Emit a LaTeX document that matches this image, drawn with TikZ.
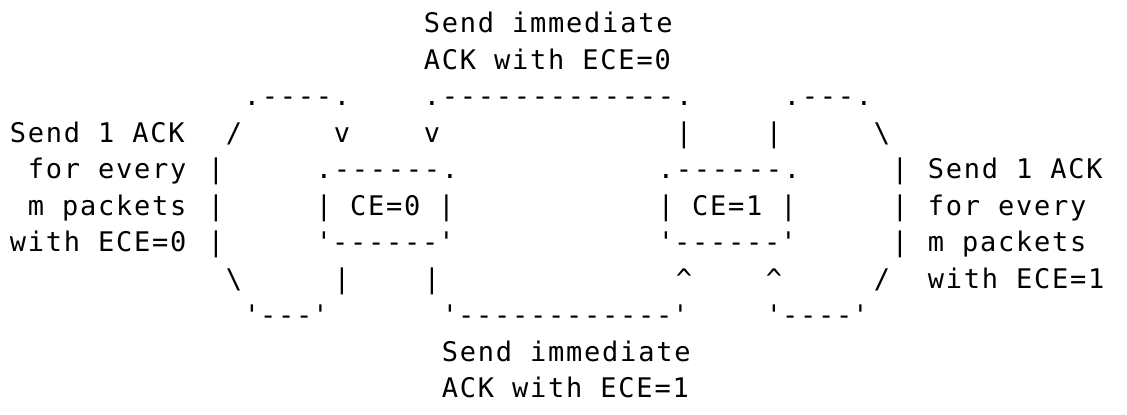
\documentclass[tikz,border=0pt]{standalone}
\usepackage{fontspec}
\setmonofont{DejaVu Sans Mono}[LetterSpace=6.5]
\tikzset{
  asc/.style={font=\ttfamily\fontsize{20.25}{22}\selectfont, anchor=base west, inner sep=0pt, outer sep=0pt, text=black}
}
% #1 name, #2 column, #3 line, #4 text
\newcommand\ascseg[4]{\node[asc] (#1) at ({9.9+18*#2},{-(32.5+36.5*(#3-1))}) {#4};}
\begin{document}
\begin{tikzpicture}[x=0.75pt,y=0.75pt]
\fill[white] (0,0) rectangle (1127,-414);
\useasboundingbox (0,0) rectangle (1127,-414);
% line 1-2
\ascseg{ta}{23}{1}{Send immediate}
\ascseg{tb}{23}{2}{ACK with ECE=0}
% line 3
\ascseg{a3}{13}{3}{.----.}
\ascseg{b3}{23}{3}{.-------------.}
\ascseg{c3}{43}{3}{.---.}
% line 4
\ascseg{la}{0}{4}{Send 1 ACK}
\ascseg{a4}{12}{4}{/}
\ascseg{b4}{18}{4}{v}
\ascseg{c4}{23}{4}{v}
\ascseg{d4}{37}{4}{|}
\ascseg{e4}{42}{4}{|}
\ascseg{f4}{48}{4}{\textbackslash}
% line 5
\ascseg{lb}{1}{5}{for every}
\ascseg{a5}{11}{5}{|}
\ascseg{b5}{17}{5}{.------.}
\ascseg{c5}{36}{5}{.------.}
\ascseg{d5}{49}{5}{|}
\ascseg{ra}{51}{5}{Send 1 ACK}
% line 6
\ascseg{lc}{1}{6}{m packets}
\ascseg{a6}{11}{6}{|}
\ascseg{ce0}{17}{6}{| CE=0 |}
\ascseg{ce1}{36}{6}{| CE=1 |}
\ascseg{d6}{49}{6}{|}
\ascseg{rb}{51}{6}{for every}
% line 7
\ascseg{ld}{0}{7}{with ECE=0}
\ascseg{a7}{11}{7}{|}
\ascseg{b7}{17}{7}{\textquotesingle------\textquotesingle}
\ascseg{c7}{36}{7}{\textquotesingle------\textquotesingle}
\ascseg{d7}{49}{7}{|}
\ascseg{rc}{51}{7}{m packets}
% line 8
\ascseg{a8}{12}{8}{\textbackslash}
\ascseg{b8}{18}{8}{|}
\ascseg{c8}{23}{8}{|}
\ascseg{d8}{37}{8}{\textasciicircum}
\ascseg{e8}{42}{8}{\textasciicircum}
\ascseg{f8}{48}{8}{/}
\ascseg{rd}{51}{8}{with ECE=1}
% line 9
\ascseg{a9}{13}{9}{\textquotesingle---\textquotesingle}
\ascseg{b9}{24}{9}{\textquotesingle------------\textquotesingle}
\ascseg{c9}{42}{9}{\textquotesingle----\textquotesingle}
% line 10-11
\ascseg{ba}{24}{10}{Send immediate}
\ascseg{bb}{24}{11}{ACK with ECE=1}
\end{tikzpicture}
\end{document}
